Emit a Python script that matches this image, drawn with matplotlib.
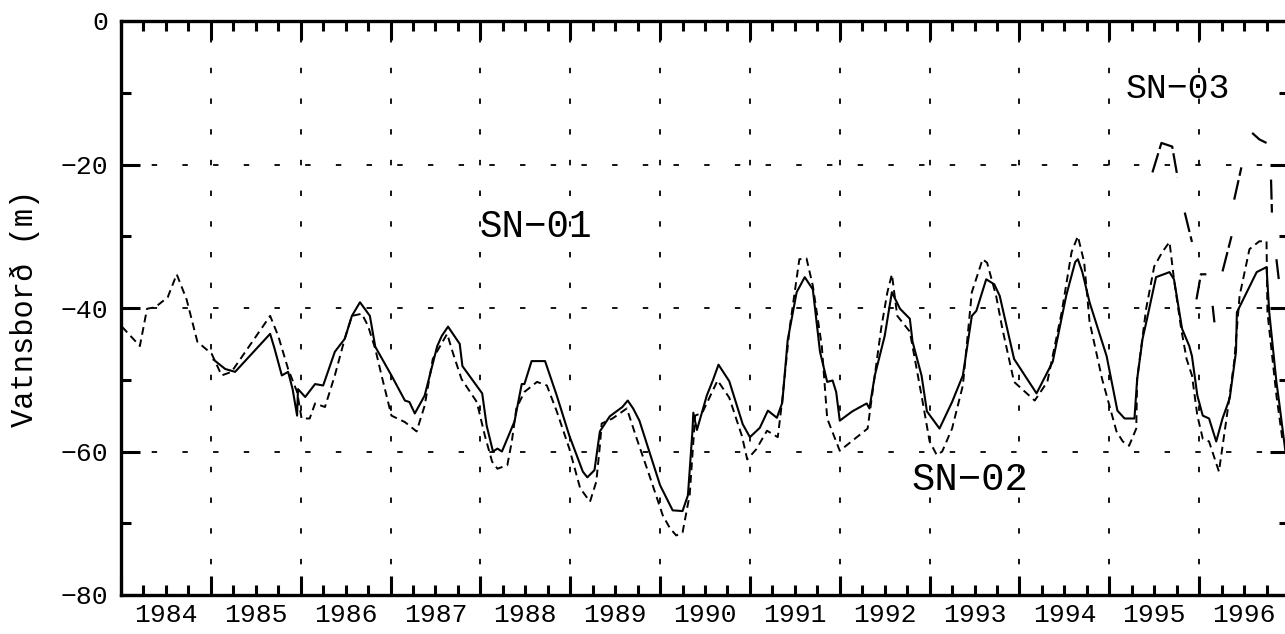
import numpy as np
import matplotlib
matplotlib.use("Agg")
from matplotlib import pyplot as plt
from matplotlib.ticker import MultipleLocator, FuncFormatter

plt.rcParams['font.family'] = ['Liberation Mono', 'DejaVu Sans Mono']

# SN-01 (solid)
sn01_t = [1985.03, 1985.16, 1985.27, 1985.66, 1985.71, 1985.79, 1985.86, 1985.91, 1985.96, 1985.97,
          1986.05, 1986.16, 1986.25, 1986.38, 1986.49, 1986.57, 1986.66, 1986.77, 1986.83, 1987.01,
          1987.16, 1987.21, 1987.27, 1987.38, 1987.52, 1987.57, 1987.64, 1987.77, 1987.80, 1988.02,
          1988.07, 1988.14, 1988.19, 1988.24, 1988.38, 1988.46, 1988.49, 1988.57, 1988.72, 1988.85,
          1988.99, 1989.14, 1989.19, 1989.27, 1989.33, 1989.44, 1989.58, 1989.64, 1989.70, 1989.77,
          1990.00, 1990.14, 1990.25, 1990.31, 1990.36, 1990.37, 1990.41, 1990.52, 1990.59, 1990.65,
          1990.77, 1990.92, 1991.00, 1991.11, 1991.20, 1991.30, 1991.36, 1991.42, 1991.52, 1991.61,
          1991.70, 1991.78, 1991.86, 1991.92, 1991.96, 1992.00, 1992.14, 1992.30, 1992.33, 1992.39,
          1992.50, 1992.58, 1992.67, 1992.78, 1992.81, 1992.91, 1992.97, 1993.11, 1993.25, 1993.37,
          1993.47, 1993.52, 1993.63, 1993.72, 1993.78, 1993.94, 1994.19, 1994.37, 1994.52, 1994.62,
          1994.65, 1994.70, 1994.78, 1994.97, 1995.09, 1995.17, 1995.28, 1995.31, 1995.37, 1995.42,
          1995.52, 1995.67, 1995.72, 1995.81, 1995.89, 1995.92, 1995.98, 1996.04, 1996.11, 1996.19,
          1996.26, 1996.34, 1996.41, 1996.42, 1996.53, 1996.64, 1996.75, 1996.78, 1996.86, 1996.89,
          1996.96]
sn01_v = [-47.2, -48.5, -48.9, -43.6, -45.7, -49.4, -48.9, -51.3, -55.0, -51.3,
          -52.4, -50.6, -50.8, -46.1, -44.3, -41.1, -39.2, -41.1, -45.4, -49.4,
          -52.9, -53.1, -54.7, -52.2, -45.3, -43.9, -42.6, -45.0, -48.1, -51.9,
          -56.4, -60.0, -59.6, -60.0, -55.8, -50.6, -50.6, -47.4, -47.4, -52.2,
          -57.8, -62.8, -63.6, -62.6, -57.2, -55.1, -53.8, -52.9, -54.0, -55.7,
          -64.7, -68.2, -68.3, -66.1, -57.2, -54.6, -57.0, -52.2, -50.0, -47.9,
          -50.2, -56.2, -58.0, -56.7, -54.3, -55.3, -53.2, -44.5, -37.8, -35.7,
          -37.4, -46.1, -50.3, -50.1, -51.7, -55.7, -54.4, -53.3, -54.0, -49.4,
          -43.9, -37.8, -40.1, -41.5, -44.7, -49.4, -54.4, -56.8, -53.1, -49.4,
          -41.1, -40.4, -36.0, -36.7, -38.3, -47.1, -51.9, -47.5, -38.3, -33.6,
          -33.2, -35.0, -39.2, -46.7, -54.3, -55.4, -55.4, -49.9, -44.3, -41.5,
          -35.7, -35.0, -36.0, -42.9, -45.3, -46.7, -52.2, -55.0, -55.4, -58.6,
          -55.4, -52.6, -46.1, -40.6, -37.8, -35.0, -34.3, -40.6, -50.3, -53.1,
          -60.0]

# SN-02 (dashed)
sn02_t = [1984.01, 1984.21, 1984.29, 1984.38, 1984.52, 1984.62, 1984.73, 1984.85, 1985.01, 1985.12,
          1985.23, 1985.66, 1985.75, 1985.86, 1985.96, 1986.01, 1986.10, 1986.16, 1986.27, 1986.38,
          1986.49, 1986.57, 1986.68, 1986.75, 1986.83, 1986.90, 1987.01, 1987.16, 1987.29, 1987.38,
          1987.47, 1987.63, 1987.69, 1987.79, 1987.96, 1988.05, 1988.13, 1988.19, 1988.30, 1988.35,
          1988.40, 1988.49, 1988.63, 1988.74, 1988.85, 1988.99, 1989.11, 1989.22, 1989.29, 1989.33,
          1989.35, 1989.47, 1989.63, 1989.74, 1989.88, 1990.03, 1990.11, 1990.18, 1990.25, 1990.30,
          1990.33, 1990.39, 1990.47, 1990.64, 1990.77, 1990.91, 1990.97, 1991.07, 1991.19, 1991.31,
          1991.36, 1991.44, 1991.55, 1991.63, 1991.70, 1991.80, 1991.86, 1992.00, 1992.14, 1992.31,
          1992.36, 1992.46, 1992.53, 1992.58, 1992.64, 1992.78, 1992.91, 1993.00, 1993.08, 1993.14,
          1993.25, 1993.37, 1993.47, 1993.59, 1993.64, 1993.74, 1993.81, 1993.94, 1994.17, 1994.31,
          1994.47, 1994.58, 1994.65, 1994.72, 1994.78, 1994.92, 1995.08, 1995.15, 1995.22, 1995.30,
          1995.31, 1995.41, 1995.50, 1995.59, 1995.67, 1995.72, 1995.80, 1995.86, 1995.92, 1995.98,
          1996.04, 1996.11, 1996.22, 1996.30, 1996.39, 1996.45, 1996.56, 1996.67, 1996.75, 1996.76,
          1996.86, 1996.93]
sn02_v = [-42.6, -45.3, -40.1, -39.9, -38.5, -35.3, -38.8, -44.7, -46.4, -49.4,
          -48.9, -41.1, -43.9, -48.5, -51.7, -55.4, -55.4, -53.3, -53.8, -49.4,
          -44.3, -41.1, -40.8, -42.5, -45.7, -49.4, -55.0, -55.9, -57.2, -53.6,
          -47.1, -43.6, -46.1, -49.9, -53.1, -57.8, -61.4, -62.4, -61.9, -58.6,
          -54.0, -51.7, -50.3, -50.8, -54.4, -59.6, -65.1, -67.0, -64.2, -59.2,
          -56.1, -55.4, -54.0, -58.2, -63.3, -68.9, -70.7, -71.7, -71.3, -68.0,
          -66.0, -55.0, -54.6, -50.1, -52.5, -57.8, -61.1, -59.7, -57.1, -58.0,
          -52.8, -43.0, -33.2, -33.1, -36.9, -45.3, -55.4, -59.9, -58.5, -56.8,
          -52.2, -42.9, -37.8, -35.3, -41.1, -43.3, -52.2, -58.6, -60.5, -60.0,
          -56.8, -50.8, -37.8, -33.2, -33.7, -38.3, -42.9, -50.3, -52.9, -50.3,
          -40.6, -32.2, -30.0, -33.6, -41.9, -49.9, -57.2, -58.6, -59.2, -56.8,
          -49.9, -40.1, -34.2, -32.2, -30.8, -36.0, -42.9, -47.1, -49.4, -55.0,
          -58.2, -58.6, -62.8, -55.8, -47.5, -38.3, -31.8, -30.7, -30.7, -40.6,
          -52.2, -58.6]

# SN-03 (broken record, gaps as nan)
nan = np.nan
sn03_t = [1995.48, 1995.58, 1995.70, 1995.76, 1995.80, 1995.84, 1995.92, 1995.95, 1995.97, 1996.02,
          1996.08, 1996.11, 1996.15, 1996.17, 1996.21, 1996.26, 1996.36, 1996.37, 1996.39, 1996.47,
          1996.53, 1996.59, 1996.67, 1996.75, 1996.78, 1996.80, 1996.81, 1996.84, 1996.86, 1996.89]
sn03_v = [-21.1, -17.0, -17.5, -21.8, nan, -26.7, -30.8, nan, -38.8, -35.3,
          -35.3, nan, -39.7, -42.0, nan, -34.9, -30.0, nan, -24.9, -20.4,
          nan, -15.6, -16.5, -17.0, nan, -22.1, -26.7, nan, -33.2, -36.4]

year_labels = list(range(1984, 1997))

fig = plt.figure(figsize=(12.85, 6.34), dpi=100)
ax = fig.add_axes([121 / 1285, 1 - 595 / 634, (1289 - 121) / 1285, 574 / 634])

ax.plot(sn01_t, sn01_v, color='black', lw=1.5)
ax.plot(sn02_t, sn02_v, color='black', lw=1.4, dashes=(4, 2.5))
ax.plot(sn03_t, sn03_v, color='black', lw=1.6, dashes=(9, 2))

ax.set_xlim(1984, 1997)
ax.set_ylim(-80, 0)

ax.xaxis.set_major_locator(MultipleLocator(1))
ax.xaxis.set_minor_locator(MultipleLocator(0.25))
ax.xaxis.set_major_formatter(FuncFormatter(lambda x, p: ''))


def mid_year(x, p):
    if abs((x % 1) - 0.5) < 1e-6 and int(x) in year_labels:
        return str(int(x))
    return ''


ax.xaxis.set_minor_formatter(FuncFormatter(mid_year))
ax.yaxis.set_major_locator(MultipleLocator(20))
ax.yaxis.set_minor_locator(MultipleLocator(10))

ax.tick_params(which='both', direction='in', top=True, right=True, width=2.2, color='black',
               labelsize=19)
ax.tick_params(which='major', length=14)
ax.tick_params(which='minor', length=7)
ax.tick_params(axis='x', which='minor', pad=5.5)
ax.tick_params(axis='y', which='major', pad=9)

for s in ax.spines.values():
    s.set_linewidth(2.4)

ax.grid(True, which='major', color='black', lw=1.3, linestyle=(0, (3, 14)))

ax.set_ylabel('Vatnsborð (m)', fontsize=22)
ax.yaxis.set_label_coords(-0.069, 0.5)

ax.text(1988.62, -30.1, 'SN\u221201', fontsize=27, ha='center', va='baseline')
ax.text(1993.45, -65.4, 'SN\u221202', fontsize=28, ha='center', va='baseline')
ax.text(1995.76, -10.7, 'SN\u221203', fontsize=25, ha='center', va='baseline')

fig.savefig('out.png', dpi=100)
